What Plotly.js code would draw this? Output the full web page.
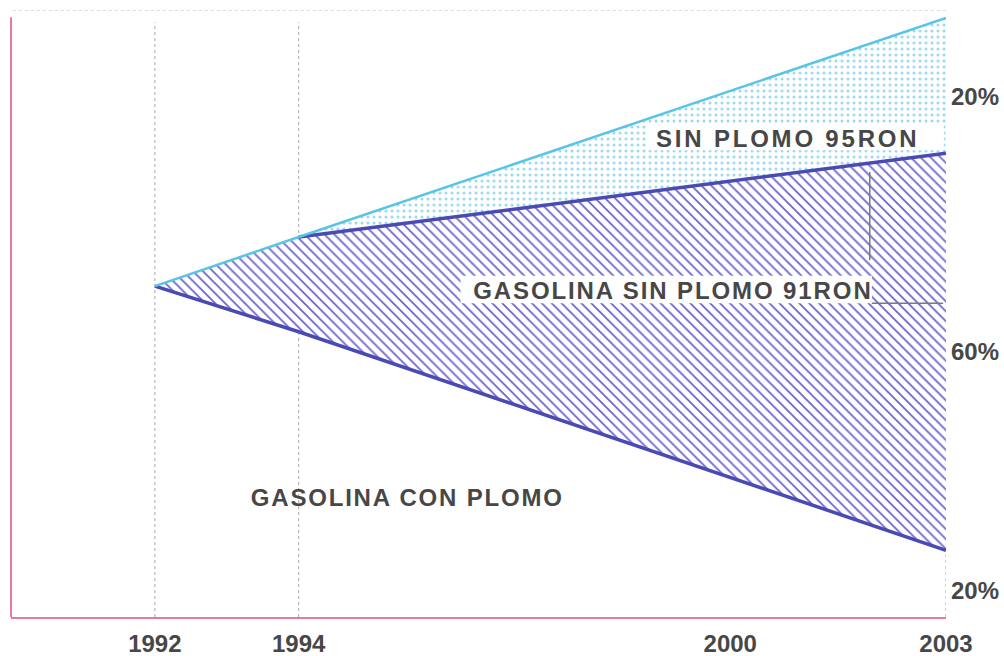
<!DOCTYPE html>
<html>
<head>
<meta charset="utf-8">
<script src="https://cdn.plot.ly/plotly-3.0.1.min.js"></script>
<style>
  html, body { margin: 0; padding: 0; background: #fff; }
  #chart { width: 1004px; height: 656px; }
</style>
</head>
<body>
<div id="chart"></div>
<script>
// ---- data (index units) ----
const years = [1992, 1994, 2003];
const conPlomoTop = [54.5, 47.0, 11.0];        // upper edge of leaded band
const sinPlomo91Top = [54.5, 62.6, 76.4];      // upper edge of 91RON band
const sinPlomo95Top = [54.5, 62.6, 98.7];      // upper edge of 95RON band
const tickYears = [1992, 1994, 2000, 2003];
const tickLabels = ['1992', '1994', '2000', '2003'];
const gridYears = [1992, 1994, 2003];
const shareLabels = ['20%', '60%', '20%'];

const PINK = '#e9789a';
const DARK = '#4a4ab4';
const LIGHT = '#58c4e8';
const TXT = '#474747';
const FONT = 'Liberation Sans, Arial, sans-serif';

const traces = [
  { x: years, y: conPlomoTop, mode: 'lines', line: { width: 0 }, hoverinfo: 'skip' },
  { x: years, y: sinPlomo91Top, mode: 'lines', line: { width: 0 }, fill: 'tonexty',
    fillcolor: 'rgba(0,0,0,0)',
    fillpattern: { shape: '\\', fgcolor: '#6a62cf', bgcolor: '#ffffff', size: 7, solidity: 0.24 },
    hoverinfo: 'skip' },
  { x: years, y: sinPlomo95Top, mode: 'lines', line: { width: 0 }, fill: 'tonexty',
    fillcolor: 'rgba(0,0,0,0)',
    fillpattern: { shape: '.', fgcolor: '#9ad9ee', bgcolor: '#ffffff', size: 6, solidity: 0.2 },
    hoverinfo: 'skip' },
  { x: years, y: conPlomoTop, mode: 'lines', line: { color: DARK, width: 3.5 }, hoverinfo: 'skip' },
  { x: years.slice(1), y: sinPlomo91Top.slice(1), mode: 'lines', line: { color: DARK, width: 3.5 }, hoverinfo: 'skip' },
  { x: years, y: sinPlomo95Top, mode: 'lines', line: { color: LIGHT, width: 2.5 }, hoverinfo: 'skip' }
];

const shapes = [];
gridYears.forEach(function (yr) {
  shapes.push({ type: 'line', layer: 'below', xref: 'x', yref: 'y', x0: yr, x1: yr, y0: 0, y1: 98,
    line: { color: '#a8a8a8', width: 1, dash: 'dot' } });
});
shapes.push({ type: 'line', layer: 'below', xref: 'paper', yref: 'y', x0: 0.002, x1: 1, y0: 100, y1: 100,
  line: { color: '#b8b8b8', width: 1, dash: 'dot' } });
// white label boxes
shapes.push({ type: 'rect', layer: 'above', xref: 'x', yref: 'y', x0: 1998.86, x1: 2002.97, y0: 76.9, y1: 81.4,
  fillcolor: '#ffffff', line: { width: 0 } });
shapes.push({ type: 'rect', layer: 'above', xref: 'x', yref: 'y', x0: 1996.25, x1: 2001.97, y0: 51.7, y1: 56.2,
  fillcolor: '#ffffff', line: { width: 0 } });
// thin grey cut marks
shapes.push({ type: 'line', layer: 'above', xref: 'x', yref: 'y', x0: 2001.94, x1: 2001.94, y0: 58.8, y1: 73.3,
  line: { color: '#7a7a7a', width: 1.5 } });
shapes.push({ type: 'line', layer: 'above', xref: 'x', yref: 'y', x0: 2001.97, x1: 2002.96, y0: 51.7, y1: 51.7,
  line: { color: '#7a7a7a', width: 1.5 } });
// left pink axis (drawn as shape so it is not clipped at the page edge)
shapes.push({ type: 'line', layer: 'above', xref: 'paper', yref: 'y', x0: 0, x1: 0, y0: 0, y1: 98.8,
  line: { color: PINK, width: 2 } });

const labelFont = { family: FONT, size: 24, color: TXT, weight: 'bold' };
const annotations = [
  { text: 'SIN PLOMO 95RON', x: 2000.79, y: 78.9, xref: 'x', yref: 'y', showarrow: false,
    xanchor: 'center', yanchor: 'middle', font: labelFont },
  { text: 'GASOLINA SIN PLOMO 91RON', x: 1999.21, y: 53.8, xref: 'x', yref: 'y', showarrow: false,
    xanchor: 'center', yanchor: 'middle', font: labelFont },
  { text: 'GASOLINA CON PLOMO', x: 1995.51, y: 19.7, xref: 'x', yref: 'y', showarrow: false,
    xanchor: 'center', yanchor: 'middle', font: labelFont },
  { text: shareLabels[0], x: 2003, y: 85.7, xref: 'x', yref: 'y', showarrow: false,
    xanchor: 'left', yanchor: 'middle', xshift: 3, font: labelFont },
  { text: shareLabels[1], x: 2003, y: 43.7, xref: 'x', yref: 'y', showarrow: false,
    xanchor: 'left', yanchor: 'middle', xshift: 3, font: labelFont },
  { text: shareLabels[2], x: 2003, y: 4.4, xref: 'x', yref: 'y', showarrow: false,
    xanchor: 'left', yanchor: 'middle', xshift: 3, font: labelFont }
];

const layout = {
  width: 1004, height: 656,
  margin: { l: 11, r: 58, t: 10, b: 39 },
  paper_bgcolor: '#ffffff', plot_bgcolor: '#ffffff',
  showlegend: false,
  xaxis: {
    range: [1990, 2003], showgrid: false, zeroline: false,
    showline: true, linecolor: PINK, linewidth: 1.5,
    tickmode: 'array', tickvals: tickYears, ticktext: tickLabels,
    ticks: '', ticklabelstandoff: 5,
    tickfont: { family: FONT, size: 24, color: TXT, weight: 'bold' }
  },
  yaxis: {
    range: [0, 100], showgrid: false, zeroline: false,
    showline: false, showticklabels: false, ticks: ''
  },
  shapes: shapes,
  annotations: annotations
};

const spacing = {
  'SIN PLOMO 95RON': '2.8px',
  'GASOLINA SIN PLOMO 91RON': '1.9px',
  'GASOLINA CON PLOMO': '1.8px'
};

Plotly.newPlot('chart', traces, layout, { displayModeBar: false, staticPlot: true }).then(function () {
  document.querySelectorAll('.annotation-text').forEach(function (t) {
    const s = spacing[t.textContent];
    if (s) t.style.letterSpacing = s;
  });
});
</script>
</body>
</html>
